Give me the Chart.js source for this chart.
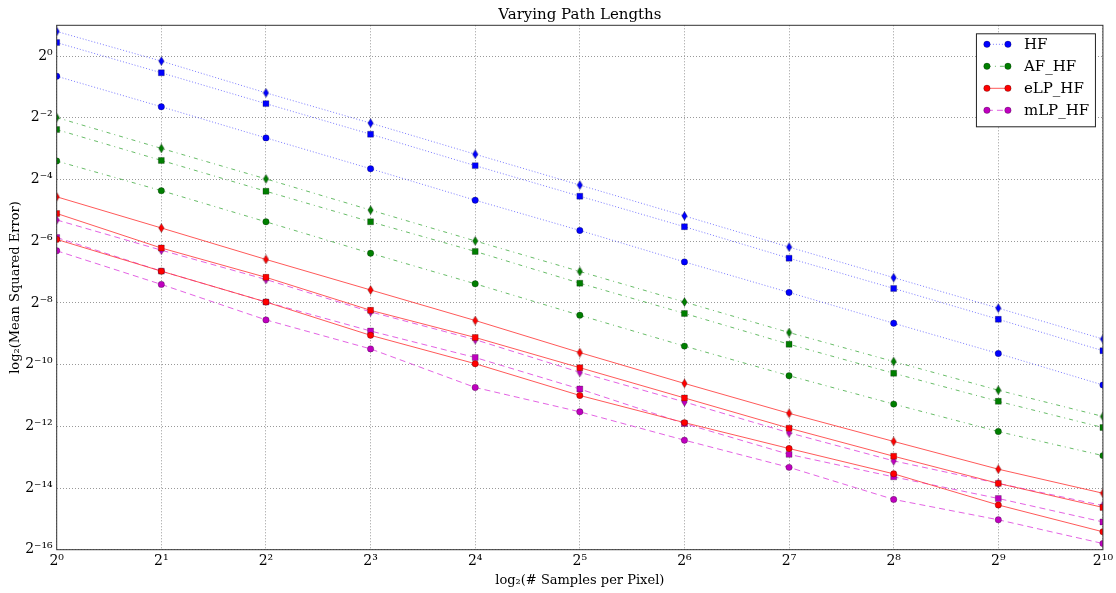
<!DOCTYPE html>
<html>
<head>
<meta charset="utf-8">
<title>Varying Path Lengths</title>
<script src="https://cdn.jsdelivr.net/npm/chart.js@4/dist/chart.umd.min.js"></script>
<style>
  html, body { margin: 0; padding: 0; background: #fff; }
  #wrap { width: 1116px; height: 593px; }
</style>
</head>
<body>
<div id="wrap"><canvas id="myChart" width="1116" height="593"></canvas></div>
<script>
// log2 of samples per pixel
const sampleExp = [0, 1, 2, 3, 4, 5, 6, 7, 8, 9, 10];

// log2 of mean squared error
const hfCircle = [-0.65, -1.64, -2.65, -3.65, -4.67, -5.65, -6.67, -7.66, -8.66, -9.64, -10.66];
const hfSquare = [0.44, -0.54, -1.54, -2.53, -3.55, -4.54, -5.53, -6.55, -7.53, -8.53, -9.55];
const hfDiamond = [0.80, -0.16, -1.19, -2.17, -3.18, -4.18, -5.18, -6.19, -7.18, -8.17, -9.17];

const afCircle = [-3.40, -4.36, -5.37, -6.39, -7.38, -8.40, -9.40, -10.36, -11.28, -12.17, -12.95];
const afSquare = [-2.38, -3.38, -4.38, -5.37, -6.33, -7.36, -8.34, -9.34, -10.28, -11.19, -12.04];
const afDiamond = [-1.99, -2.99, -3.98, -4.99, -5.99, -6.98, -7.97, -8.96, -9.90, -10.83, -11.68];

const elpCircle = [-5.94, -6.97, -7.97, -9.05, -9.97, -11.00, -11.88, -12.72, -13.54, -14.55, -15.42];
const elpSquare = [-5.10, -6.22, -7.17, -8.24, -9.12, -10.10, -11.08, -12.06, -12.97, -13.85, -14.63];
const elpDiamond = [-4.56, -5.57, -6.59, -7.58, -8.57, -9.61, -10.61, -11.58, -12.49, -13.39, -14.17];

const mlpCircle = [-6.31, -7.40, -8.55, -9.49, -10.74, -11.53, -12.45, -13.33, -14.37, -15.03, -15.80];
const mlpSquare = [-5.88, -6.97, -7.97, -8.91, -9.77, -10.79, -11.91, -12.91, -13.64, -14.34, -15.10];
const mlpDiamond = [-5.31, -6.29, -7.24, -8.29, -9.19, -10.25, -11.21, -12.21, -13.12, -13.85, -14.57];

const seriesNames = ['HF', 'AF_HF', 'eLP_HF', 'mLP_HF'];
const yTickExps = [-16, -14, -12, -10, -8, -6, -4, -2, 0];

const FONT = "'DejaVu Serif', 'Liberation Serif', serif";

// superscript helper for the 2^n tick labels
const SUP = { '-': '\u207B', '0': '\u2070', '1': '\u00B9', '2': '\u00B2', '3': '\u00B3', '4': '\u2074',
  '5': '\u2075', '6': '\u2076', '7': '\u2077', '8': '\u2078', '9': '\u2079' };
const sup = n => String(n).split('').map(c => SUP[c] || c).join('');

// thin diamond marker, like matplotlib's 'd'
function thinDiamond(color) {
  const c = document.createElement('canvas');
  c.width = 7; c.height = 10;
  const g = c.getContext('2d');
  g.beginPath();
  g.moveTo(3.5, 0.5); g.lineTo(6.2, 5); g.lineTo(3.5, 9.5); g.lineTo(0.8, 5); g.closePath();
  g.fillStyle = color; g.fill();
  g.strokeStyle = 'rgba(0,0,0,0.5)'; g.lineWidth = 0.6; g.stroke();
  return c;
}

const styles = {
  HF: { color: '#0000ff', line: 'rgba(80,80,255,0.75)', dash: [1, 2] },
  AF_HF: { color: '#007f00', line: 'rgba(40,160,40,0.7)', dash: [4, 4, 1, 4] },
  eLP_HF: { color: '#ff0000', line: 'rgba(255,60,60,0.85)', dash: [] },
  mLP_HF: { color: '#bf00bf', line: 'rgba(220,60,220,0.8)', dash: [6, 4] },
};

const toXY = vals => vals.map((v, i) => ({ x: sampleExp[i], y: v }));

function makeSet(name, marker, vals) {
  const s = styles[name];
  let pointStyle = 'circle', radius = 3.2;
  if (marker === 'square') { pointStyle = 'rect'; radius = 4.2; }
  if (marker === 'diamond') { pointStyle = thinDiamond(s.color); radius = 4; }
  return {
    label: name,
    data: toXY(vals),
    borderColor: s.line,
    borderWidth: 1,
    borderDash: s.dash,
    backgroundColor: s.color,
    pointStyle: pointStyle,
    pointRadius: radius,
    pointHoverRadius: radius,
    pointBackgroundColor: s.color,
    pointBorderColor: 'rgba(0,0,0,0.5)',
    pointBorderWidth: 0.5,
    tension: 0,
    fill: false,
  };
}

const datasets = [
  makeSet('HF', 'circle', hfCircle),
  makeSet('HF', 'square', hfSquare),
  makeSet('HF', 'diamond', hfDiamond),
  makeSet('AF_HF', 'circle', afCircle),
  makeSet('AF_HF', 'square', afSquare),
  makeSet('AF_HF', 'diamond', afDiamond),
  makeSet('eLP_HF', 'circle', elpCircle),
  makeSet('eLP_HF', 'square', elpSquare),
  makeSet('eLP_HF', 'diamond', elpDiamond),
  makeSet('mLP_HF', 'circle', mlpCircle),
  makeSet('mLP_HF', 'square', mlpSquare),
  makeSet('mLP_HF', 'diamond', mlpDiamond),
];

// black frame round the plot area
const framePlugin = {
  id: 'frame',
  afterDraw(chart) {
    const { ctx, chartArea: a } = chart;
    ctx.save();
    ctx.strokeStyle = '#333';
    ctx.lineWidth = 1;
    ctx.strokeRect(a.left, a.top, a.right - a.left, a.bottom - a.top);
    ctx.restore();
  }
};

// boxed legend in the upper right corner of the plot
const boxLegend = {
  id: 'boxLegend',
  afterDraw(chart) {
    const { ctx, chartArea: a } = chart;
    const w = 119, h = 93, rowH = 22;
    const x0 = a.right - 8 - w, y0 = a.top + 8;
    ctx.save();
    ctx.fillStyle = '#fff';
    ctx.fillRect(x0, y0, w, h);
    ctx.strokeStyle = '#222';
    ctx.lineWidth = 1;
    ctx.strokeRect(x0 + 0.5, y0 + 0.5, w, h);
    ctx.font = '15px ' + FONT;
    ctx.textBaseline = 'middle';
    seriesNames.forEach((name, i) => {
      const s = styles[name];
      const y = y0 + 11 + i * rowH;
      const xa = x0 + 11, xb = x0 + 32;
      ctx.strokeStyle = s.line;
      ctx.setLineDash(s.dash);
      ctx.beginPath(); ctx.moveTo(xa, y); ctx.lineTo(xb, y); ctx.stroke();
      ctx.setLineDash([]);
      [xa, xb].forEach(px => {
        ctx.beginPath(); ctx.arc(px, y, 3.2, 0, Math.PI * 2);
        ctx.fillStyle = s.color; ctx.fill();
        ctx.strokeStyle = 'rgba(0,0,0,0.5)'; ctx.lineWidth = 0.5; ctx.stroke();
        ctx.lineWidth = 1;
      });
      ctx.fillStyle = '#000';
      ctx.fillText(name, x0 + 48, y + 1);
    });
    ctx.restore();
  }
};

const ctx = document.getElementById('myChart').getContext('2d');
new Chart(ctx, {
  type: 'line',
  data: { datasets: datasets },
  plugins: [framePlugin, boxLegend],
  options: {
    responsive: false,
    animation: false,
    layout: { padding: { left: 0, right: 12.3, top: 0, bottom: 0 } },
    plugins: {
      legend: { display: false },
      tooltip: { enabled: false },
      title: {
        display: true,
        fullSize: false,
        text: 'Varying Path Lengths',
        color: '#000',
        font: { family: FONT, size: 15, weight: 'normal' },
        padding: { top: 6, bottom: 1.3 },
      },
    },
    scales: {
      x: {
        type: 'linear',
        min: 0,
        max: 10,
        afterBuildTicks: scale => { scale.ticks = sampleExp.map(v => ({ value: v })); },
        afterFit: scale => { scale.height = 43.3; },
        grid: { color: '#999', drawTicks: false },
        border: { display: false, dash: [1, 2] },
        ticks: {
          padding: 3,
          maxRotation: 0,
          color: '#000',
          font: { family: FONT, size: 14 },
          callback: v => '2' + sup(v),
        },
        title: {
          display: true,
          text: 'log\u2082(# Samples per Pixel)',
          color: '#000',
          font: { family: FONT, size: 13 },
          padding: { top: 0, bottom: 5 },
        },
      },
      y: {
        type: 'linear',
        min: -16,
        max: 1,
        afterBuildTicks: scale => { scale.ticks = yTickExps.map(v => ({ value: v })); },
        afterFit: scale => { scale.width = 56.7; },
        grid: { color: '#999', drawTicks: false },
        border: { display: false, dash: [1, 2] },
        ticks: {
          padding: 4,
          color: '#000',
          font: { family: FONT, size: 14 },
          callback: v => '2' + sup(v),
        },
        title: {
          display: true,
          text: 'log\u2082(Mean Squared Error)',
          color: '#000',
          font: { family: FONT, size: 13 },
          padding: { top: 8, bottom: 0 },
        },
      },
    },
  },
});
</script>
</body>
</html>
